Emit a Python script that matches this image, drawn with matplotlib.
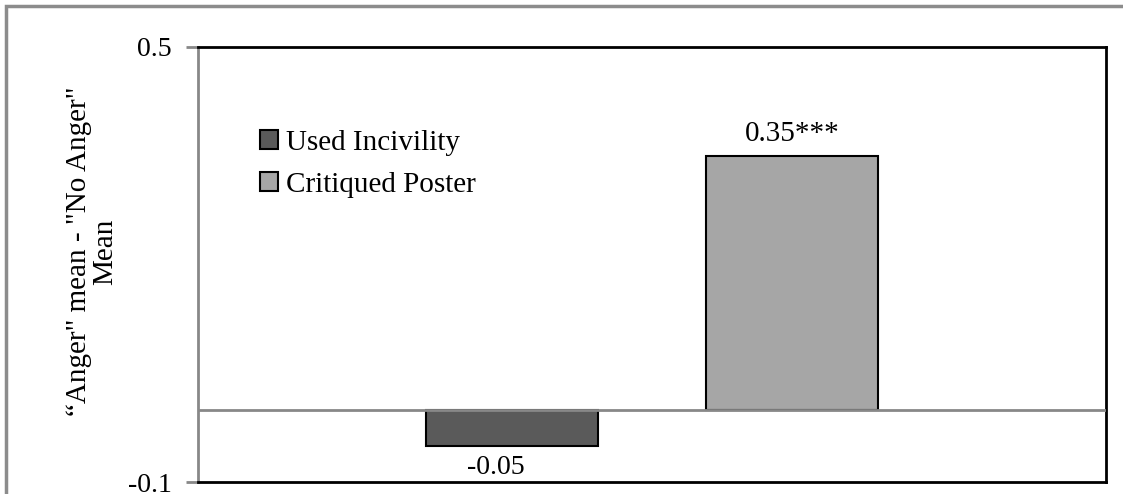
import matplotlib
matplotlib.use("Agg")
import matplotlib.pyplot as plt
from matplotlib.patches import Rectangle

series = ["Used Incivility", "Critiqued Poster"]
values = [-0.05, 0.35]
labels = ["-0.05", "0.35***"]
colors = ["#5a5a5a", "#a6a6a6"]
yticks = [-0.1, 0.5]
ylabel = "\u201cAnger\" mean - \"No Anger\"\nMean"

plt.rcParams['font.family'] = ['Liberation Serif', 'DejaVu Serif']

fig = plt.figure(figsize=(11.23, 4.94), dpi=100)
ax = fig.add_axes([198/1123, 1-482/494, (1106-198)/1123, (482-47)/494])

positions = [0.3458, 0.654]
width = 0.189
bars = ax.bar(positions, values, width=width, color=colors, edgecolor="black",
              linewidth=1.5, zorder=2)
for b, s in zip(bars, series):
    b.set_label(s)

ax.set_xlim(0, 1)
ax.set_ylim(-0.1, 0.5)
ax.axhline(0, color="#888888", linewidth=2, zorder=3)

ax.set_yticks(yticks)
ax.set_yticklabels(["-0.1", "0.5"], fontsize=20)
ax.tick_params(axis='y', direction='out', length=9, width=2, color="#888888", pad=10)
ax.set_xticks([])

for side in ["top", "right", "bottom"]:
    ax.spines[side].set_color("black")
    ax.spines[side].set_linewidth(2)
ax.spines["left"].set_color("#888888")
ax.spines["left"].set_linewidth(2)

ax.text(positions[1], values[1] + 0.012, labels[1], ha="center", va="bottom", fontsize=21)
ax.text(0.328, -0.08, labels[0], ha="center", va="center", fontsize=20)

ax.set_ylabel(ylabel, fontsize=21, linespacing=1.0)
ax.yaxis.set_label_coords(-0.088, 0.53)

leg = ax.legend(loc="upper left", bbox_to_anchor=(0.0555, 0.837), frameon=False,
                fontsize=21, handlelength=0.6, handleheight=0.6, handletextpad=0.3,
                labelspacing=0.55, borderaxespad=0)

fig.patches.append(Rectangle((6/1123, -0.05), 1.1, 1 - 6/494 + 0.05, transform=fig.transFigure,
                             fill=False, edgecolor="#8c8c8c", linewidth=2.5))

fig.savefig("out.png", dpi=100)
